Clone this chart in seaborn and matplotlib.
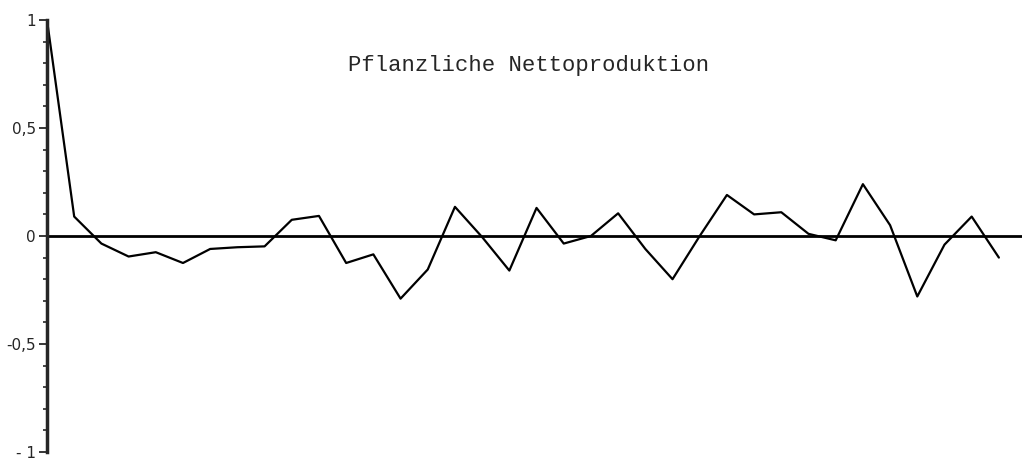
import matplotlib
matplotlib.use('Agg')
import matplotlib.pyplot as plt
from matplotlib.ticker import MultipleLocator, FixedLocator
import pandas as pd
import seaborn as sns

# autocorrelation, lags 0..35
lags = list(range(36))
acf = [1.0, 0.09, -0.035, -0.095, -0.075, -0.125, -0.06, -0.052, -0.048, 0.075,
       0.093, -0.125, -0.085, -0.29, -0.155, 0.135, -0.005, -0.16, 0.13, -0.035,
       0.0, 0.105, -0.06, -0.2, 0.0, 0.19, 0.10, 0.11, 0.01, -0.02,
       0.24, 0.05, -0.28, -0.04, 0.09, -0.1]
ytick_vals = [1, 0.5, 0, -0.5, -1]
ytick_labels = ['1', '0,5', '0', '-0,5', '- 1']
title = 'Pflanzliche Nettoproduktion'

sns.set_style('ticks')
plt.rcParams['font.family'] = ['DejaVu Sans']

data = pd.DataFrame({'lag': lags, 'acf': acf})

fig = plt.figure(figsize=(10.22, 4.59), dpi=100)
ax = fig.add_axes([47 / 1022, 7 / 459, 1 - 47 / 1022, 432 / 459])
sns.lineplot(data=data, x='lag', y='acf', color='black', lw=1.6, ax=ax)
ax.axhline(0, color='black', lw=2)

ax.set_xlim(0, 35.85)
ax.set_ylim(-1, 1)
ax.set_xlabel('')
ax.set_ylabel('')
ax.set_xticks([])
ax.yaxis.set_major_locator(FixedLocator(ytick_vals))
ax.set_yticklabels(ytick_labels, fontsize=11)
ax.yaxis.set_minor_locator(MultipleLocator(0.1))
ax.tick_params(axis='y', which='major', length=6, width=1.3, direction='out', pad=2)
ax.tick_params(axis='y', which='minor', length=3, width=1.2, direction='out')
for s in ['top', 'right', 'bottom']:
    ax.spines[s].set_visible(False)
ax.spines['left'].set_linewidth(2.5)

fig.text(529 / 1022, 1 - 66 / 459, title, family='Liberation Mono', fontsize=16,
         ha='center', va='center')

fig.savefig('out.png', dpi=100)
